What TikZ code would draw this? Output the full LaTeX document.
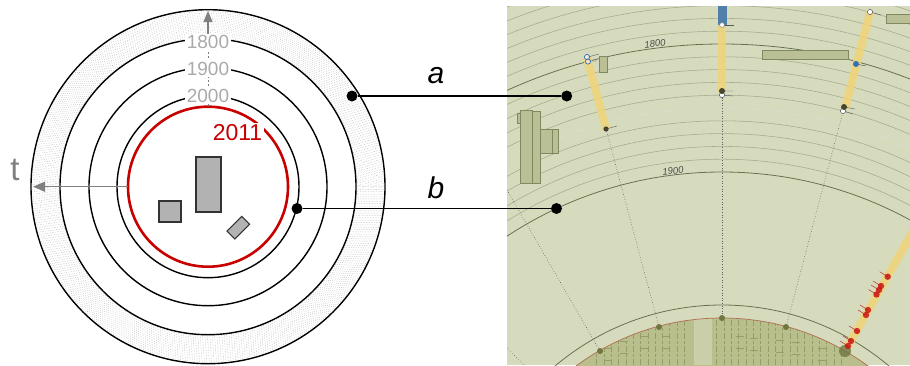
\documentclass[tikz,border=0pt]{standalone}
\usepackage{fontspec}
\setmainfont{Liberation Sans}
\usetikzlibrary{arrows.meta}
\definecolor{yrgray}{RGB}{170,170,170}
\definecolor{tgray}{RGB}{128,128,128}
\definecolor{redc}{RGB}{200,0,0}
\definecolor{rectfill}{RGB}{178,178,178}
\definecolor{bgimg}{RGB}{215,219,190}
\definecolor{faintl}{RGB}{165,170,140}
\definecolor{majorl}{RGB}{105,112,80}
\definecolor{innerf}{RGB}{184,190,140}
\definecolor{innerl}{RGB}{150,158,104}
\definecolor{olrect}{RGB}{186,191,150}
\definecolor{olrectb}{RGB}{128,136,98}
\definecolor{barc}{RGB}{240,212,120}
\definecolor{bluec}{RGB}{80,128,170}
\definecolor{blued}{RGB}{50,110,185}
\definecolor{darkd}{RGB}{70,70,48}
\definecolor{oldot}{RGB}{112,118,62}
\definecolor{reddot}{RGB}{200,20,20}
\definecolor{redtick}{RGB}{190,70,70}
\definecolor{rededge}{RGB}{176,110,80}
\tikzset{
  ring/.style={draw=black, line width=1.4pt},
  band/.style={draw=gray!85, dotted, line width=0.4pt},
  yr/.style={fill=white, inner sep=1.6pt, text=yrgray, font=\fontsize{19}{19}\selectfont},
  bldg/.style={fill=rectfill, draw=black!80, line width=1.1pt},
  cdot/.style={circle, fill=black, inner sep=0pt, minimum size=11pt},
  conn/.style={draw=black, line width=1.4pt},
  lbl/.style={font=\itshape\fontsize{30}{30}\selectfont},
  faint/.style={draw=faintl, line width=0.55pt},
  major/.style={draw=majorl, line width=0.8pt},
  olr/.style={fill=olrect, draw=olrectb, line width=0.6pt},
  bar/.style={draw=barc, line width=8pt, opacity=0.85},
  rad/.style={draw=gray!75!black, dotted, line width=0.6pt},
  tick/.style={draw=gray!70!black, line width=0.4pt},
  rtick/.style={draw=redtick, line width=0.6pt},
  rdot/.style={fill=reddot, opacity=0.85},
}
\begin{document}
\begin{tikzpicture}[x=1pt,y=-1pt]
\useasboundingbox (0,0) rectangle (910,365);
\fill[white] (0,0) rectangle (910,365);
% ---------------- left diagram ----------------
\coordinate (C) at (208,186.7);
\foreach \r in {149.5,151.1,...,176} \draw[band] (C) circle[radius=\r];
\draw[ring] (C) circle[radius=177];
\draw[ring] (C) circle[radius=148];
\draw[ring] (C) circle[radius=119];
\draw[ring] (C) circle[radius=91];
\draw[draw=redc, line width=2.6pt] (C) circle[radius=80];
% time axes
\draw[tgray, line width=1pt, dash pattern=on 2pt off 2pt] (208,106) -- (208,34);
\draw[tgray, line width=1.2pt, -{Triangle[length=11pt,width=9pt]}] (208,34) -- (208,11);
\draw[tgray, line width=1.2pt, -{Triangle[length=12pt,width=10pt]}] (128,186.7) -- (33,186.7);
\node[text=tgray, font=\fontsize{33}{33}\selectfont] (t) at (15,170) {t};
\node[yr] (y1800) at (208,42) {1800};
\node[yr] (y1900) at (208,68.5) {1900};
\node[yr] (y2000) at (208,95.5) {2000};
\node[fill=white, inner sep=1.6pt, text=redc, font=\fontsize{23}{23}\selectfont] (y2011) at (237.5,132.5) {2011};
% buildings
\draw[bldg] (159,201) rectangle (181,222);
\draw[bldg] (196,157) rectangle (221,212);
\draw[bldg] (249.6,224.2) -- (241.8,216.4) -- (227.0,231.2) -- (234.8,239.0) -- cycle;
% ---------------- right image ----------------
\begin{scope}
\clip (507,6) rectangle (910,365);
\fill[bgimg] (507,6) rectangle (910,365);
\coordinate (O) at (722,564);
\foreach \k in {1,2,3,4,6,7,8,9,11,12,13,14,15,16,17}
  \draw[faint] (O) circle[radius={392+12.8*\k}];
\draw[draw=white!60!faintl, line width=0.9pt, dash pattern=on 8pt off 14pt] (O) circle[radius=456];
\draw[major] (O) circle[radius=520];
\draw[major] (O) circle[radius=392];
\draw[major] (O) circle[radius=259];
\fill[innerf] (O) circle[radius=246];
\begin{scope}
\clip (O) circle[radius=246];
\fill[innerf!75!white] (694,300) rectangle (712,365);
\foreach \x in {596,604,611,618,626,633,640,648,655,662,669,677,684,716,724,731,738,746,753,760,768,775,782,790,797,804,812,819,826,834,841}
  \draw[innerl, line width=0.8pt, dash pattern=on 6pt off 2pt on 3pt off 2pt] (\x,320) -- (\x,365);
\foreach \x/\a in {604/342,620/335,640/330,662/330,736/330,750/332,776/334,792/336,818/342}
  \draw[innerl, line width=0.7pt] (\x,\a+6) -- (\x+8,\a+6) (\x,\a+18) -- (\x+8,\a+18);
\end{scope}
\draw[rededge, line width=0.7pt] (O) circle[radius=246];
% text labels on arcs
\node[rotate=7, text=gray!60!black, font=\itshape\fontsize{9.5}{9.5}\selectfont] (r1800) at (655,43.5) {1800};
\node[rotate=7, text=gray!60!black, font=\itshape\fontsize{9.5}{9.5}\selectfont] (r1900) at (673,171) {1900};
% olive rectangles
\draw[olr] (599,56) rectangle (607,72);
\draw[olr] (762,50) rectangle (848,59);
\draw[olr] (886,14) rectangle (912,23);
\draw[olr] (517,113) rectangle (521,123);
\draw[olr] (520,110) rectangle (532,183);
\draw[olr] (532,111) rectangle (540,183);
\draw[olr] (540,129) rectangle (552,153);
\draw[olr] (552,129) rectangle (558,153);
% radial dotted lines
\draw[rad] (606,129) -- (659,327);
\draw[rad] (722,95) -- (722,318);
\draw[rad] (844,108) -- (786,327);
\draw[rad] (507,190) -- (600,351);
\draw[rad] (507,348) -- (524,365);
% yellow bars
\draw[bar] (587,58) -- (606,129);
\draw[bar] (722,25) -- (722,92);
\draw[bar] (870,12) -- (845,108);
\draw[bar] (846.7,348) -- (916,226);
\fill[bluec] (718,6) rectangle (727,25);
% markers
\draw[tick] (588,57) -- (599,54) (588,61) -- (597,61);
\draw[blued, line width=0.7pt, fill=white, fill opacity=0.5] (587,57) circle[radius=2.6] (588,61.5) circle[radius=2.6];
\draw[tick] (606,129) -- (617,126);
\fill[darkd] (606,129) circle[radius=2.6];
\draw[tick] (722,25) -- (734,25);
\draw[gray, line width=0.5pt, fill=white] (722,25) circle[radius=2.4];
\draw[tick] (722,91) -- (733,91) (722,95) -- (733,96);
\draw[gray!70!black, line width=0.5pt, fill=white] (722,95) circle[radius=2.6];
\fill[darkd] (722,91) circle[radius=3];
\draw[tick] (870,12) -- (881,15);
\draw[gray!70!black, line width=0.5pt, fill=white] (870,12) circle[radius=2.6];
\draw[tick] (856,64) -- (866,66);
\fill[blued] (856,64) circle[radius=3];
\draw[tick] (844,107) -- (855,109) (843,111) -- (853,114);
\draw[gray!70!black, line width=0.5pt, fill=white] (843,111) circle[radius=2.6];
\fill[darkd] (844,107) circle[radius=3];
% dots on inner arc
\foreach \p in {(600,351),(659,327),(722,318),(786,327)} \fill[oldot] \p circle[radius=3];
\fill[oldot, opacity=0.8] (845,351) circle[radius=6];
% red dots
\foreach \x/\y in {887.7/276.7,881/286,879/290,876.5/294.5,868/310,866/315,857/331,851/341,848/346}
  { \draw[rtick] (\x,\y) -- (\x-8,\y-5); \fill[rdot] (\x,\y) circle[radius=3.2]; }
\end{scope}
% ---------------- connectors ----------------
\node[cdot] (a1) at (352,96) {};
\node[cdot] (a2) at (566.7,96) {};
\node[cdot] (b1) at (297,208.5) {};
\node[cdot] (b2) at (556.5,208.5) {};
\draw[conn] (a1) -- (a2);
\draw[conn] (b1) -- (b2);
\node[lbl] (la) at (436,76) {a};
\node[lbl] (lb) at (436,188) {b};
\end{tikzpicture}
\end{document}
